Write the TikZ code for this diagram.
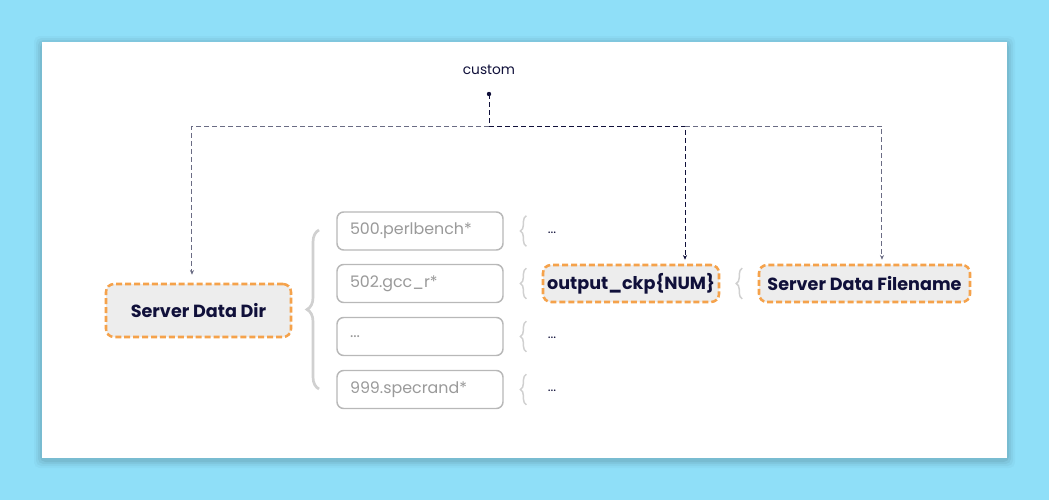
\documentclass[tikz,border=0pt]{standalone}
\usepackage{fontspec}
\setmainfont{Poppins}
\usetikzlibrary{decorations.pathreplacing,arrows.meta}
\definecolor{bgblue}{HTML}{8FDFF8}
\definecolor{navy}{HTML}{10103A}
\definecolor{orangeb}{HTML}{F5A24B}
\definecolor{boxfill}{HTML}{EDEDED}
\definecolor{graytxt}{HTML}{9A9A9A}
\definecolor{graybox}{HTML}{B8B8B8}
\definecolor{bracegray}{HTML}{D0D0D0}
\definecolor{linegray}{HTML}{6A6C84}
\tikzset{
  keybox/.style={draw=orangeb, fill=boxfill, line width=1.9pt, dash pattern=on 4.5pt off 2.2pt,
    rounded corners=6pt, text=navy, font=\bfseries\fontsize{13.2}{15}\selectfont, inner sep=0pt},
  dirbox/.style={draw=graybox, line width=1.1pt, rounded corners=5pt, text=graytxt,
    font=\fontsize{11.9}{14}\selectfont, minimum width=124.5pt, minimum height=28.5pt,
    text width=105pt, align=left, inner sep=0pt},
  conn/.style={dash pattern=on 3.8pt off 2.2pt, line width=0.75pt, -{Stealth[length=3.5pt,width=3pt]}},
  smallbrace/.style={decorate, decoration={brace, amplitude=4.5pt}, draw=bracegray, line width=1.1pt},
  dots/.style={text=navy, font=\fontsize{10}{12}\selectfont, inner sep=0pt}
}
\begin{document}
\begin{tikzpicture}[x=0.75pt,y=-0.75pt]
\fill[bgblue] (0,0) rectangle (1049,500);
\foreach \i/\o in {8/0.025,6/0.035,4/0.045,2/0.055}{
  \fill[black, opacity=\o, rounded corners=4pt] (42-\i,42-\i+2) rectangle (1007+\i,458+\i+2);
}
\fill[white] (42,42) rectangle (1007,458);

\node[text=navy, font=\fontsize{10.3}{12}\selectfont, inner sep=0pt] (custom) at (489,70) {custom};
\fill[navy] (489,94) circle (2.2);
\coordinate (dot) at (489,94);
\coordinate (hub) at (489,126);

\node[keybox, minimum width=138.75pt, minimum height=39.75pt] (sdd) at (198.5,310.5) {Server Data Dir};

\node[dirbox] (d1) at (420,231) {500.perlbench*};
\node[dirbox] (d2) at (420,283.5) {502.gcc\_r*};
\node[dirbox] (d3) at (420,336.5) {...};
\node[dirbox] (d4) at (420,389.5) {999.specrand*};

\node[keybox, minimum width=132pt, minimum height=27.75pt] (ckp) at (631,283.5) {output\_ckp\{NUM\}};
\node[keybox, minimum width=158.25pt, minimum height=27.75pt] (fname) at (864.5,283.5) {Server Data Filename};

\node[dots] (e1) at (552,233) {...};
\node[dots] (e3) at (552,338) {...};
\node[dots] (e4) at (552,391) {...};

% big brace
\draw[decorate, decoration={brace, amplitude=9pt}, draw=bracegray, line width=2pt] (319,389) -- (319,230);
% small braces
\foreach \n in {d1,d2,d3,d4}{
  \draw[smallbrace] ([xshift=17pt,yshift=-11.5pt]\n.east) -- ([xshift=17pt,yshift=11.5pt]\n.east);
}
\draw[smallbrace] ([xshift=16.5pt,yshift=-11.5pt]ckp.east) -- ([xshift=16.5pt,yshift=11.5pt]ckp.east);

% connectors
\draw[navy, line width=0.75pt, dash pattern=on 3.8pt off 2.2pt] (dot) -- (hub);
\draw[conn, linegray] (hub) -| ([xshift=-4.9pt,yshift=6pt]sdd.north);
\draw[conn, navy] (hub) -| ([xshift=40.5pt,yshift=3pt]ckp.north);
\draw[conn, linegray] ([xshift=40.5pt]ckp.north |- hub) -| ([xshift=13.1pt,yshift=3pt]fname.north);
\end{tikzpicture}
\end{document}
